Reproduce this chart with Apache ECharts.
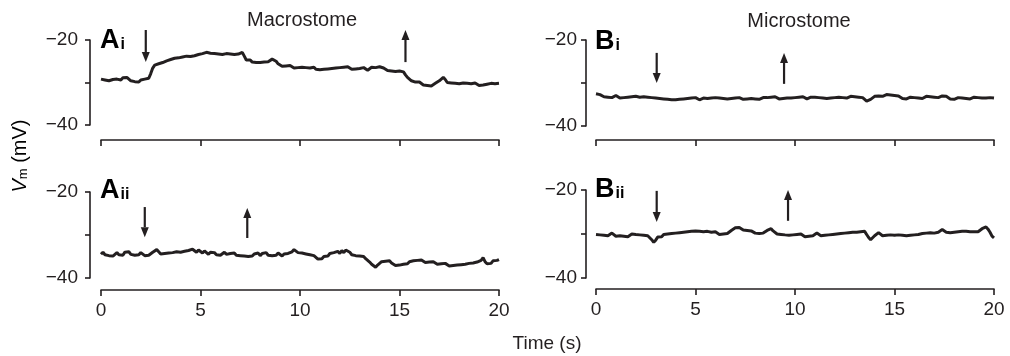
<!DOCTYPE html>
<html><head><meta charset="utf-8">
<script src="https://cdn.jsdelivr.net/npm/echarts@6/dist/echarts.min.js"></script>
<style>html,body{margin:0;padding:0;background:#fff}#c{width:1010px;height:356px}</style>
</head><body><div id="c"></div>
<script>
// Sampling: 0 to 20 s, every 0.1 s
const sampleStep = 0.1;
const xTicks = [0, 5, 10, 15, 20];
const yTicks = [-40, -30, -20];
const yLabelShown = [-40, -20];

const traceAi = [-29.2,-29.0,-29.4,-29.1,-29.6,-29.8,-29.3,-29.7,-29.2,-29.0,-29.4,-28.9,-29.3,-28.8,-29.2,-29.6,-29.4,-29.8,-29.5,-29.9,-29.4,-29.7,-29.2,-29.5,-29.0,-27.9,-26.6,-25.9,-26.1,-25.6,-25.9,-25.3,-25.5,-24.9,-25.2,-24.6,-24.9,-24.3,-24.7,-24.2,-24.5,-24.0,-24.4,-23.8,-24.2,-23.9,-24.3,-23.7,-24.0,-23.4,-23.7,-23.2,-23.5,-22.9,-22.7,-23.1,-23.5,-23.2,-23.6,-23.3,-23.7,-23.4,-23.6,-23.2,-23.5,-23.3,-23.7,-23.4,-23.8,-23.3,-23.1,-22.9,-23.8,-24.7,-25.0,-24.7,-25.2,-24.9,-25.3,-25.0,-25.3,-24.9,-25.2,-24.8,-25.1,-24.7,-24.5,-24.6,-25.0,-25.6,-25.9,-26.2,-25.8,-26.1,-26.4,-26.0,-26.3,-26.6,-26.2,-26.5,-26.8,-26.4,-26.7,-26.5,-26.9,-26.6,-26.8,-26.4,-26.9,-26.7,-27.0,-26.6,-26.9,-27.2,-26.8,-27.1,-26.7,-27.0,-26.6,-26.9,-26.5,-26.8,-26.4,-26.7,-26.3,-26.6,-26.9,-26.5,-26.8,-26.4,-26.7,-26.9,-26.5,-26.8,-27.1,-26.7,-26.4,-26.1,-26.5,-26.8,-26.3,-26.0,-26.6,-26.9,-27.2,-26.9,-27.3,-27.6,-27.4,-27.7,-27.3,-27.1,-27.5,-28.2,-28.8,-29.2,-29.6,-29.4,-29.9,-30.2,-29.9,-30.3,-30.6,-30.4,-30.7,-30.5,-30.8,-30.4,-30.2,-29.9,-29.6,-29.2,-28.8,-29.3,-30.0,-30.4,-30.1,-30.5,-30.2,-30.6,-30.3,-30.5,-30.1,-30.4,-30.2,-30.6,-30.3,-30.5,-30.1,-30.4,-30.7,-30.3,-30.6,-30.9,-30.4,-30.6,-30.2,-29.9,-30.3,-30.0,-30.2];

const traceAii = [-34.5,-34.0,-34.6,-34.2,-34.8,-34.4,-34.9,-34.5,-34.1,-34.6,-34.3,-34.7,-34.0,-34.4,-33.9,-34.5,-34.2,-34.7,-34.3,-34.6,-34.1,-34.5,-34.8,-35.1,-34.7,-34.3,-34.0,-33.6,-33.4,-33.9,-34.4,-34.8,-34.3,-34.6,-34.2,-34.5,-34.1,-34.4,-33.9,-34.3,-34.0,-34.4,-33.8,-34.1,-33.6,-33.9,-33.3,-33.7,-34.0,-33.5,-33.9,-34.2,-33.7,-34.1,-34.5,-34.0,-34.4,-34.1,-34.6,-34.2,-34.7,-34.3,-34.0,-34.5,-34.8,-34.3,-34.6,-34.2,-34.7,-34.4,-34.8,-34.5,-34.9,-34.6,-35.0,-34.6,-34.9,-34.4,-34.7,-34.2,-34.8,-34.3,-34.6,-34.1,-34.7,-34.3,-34.8,-34.4,-34.7,-34.2,-34.5,-34.9,-34.4,-34.7,-34.3,-34.5,-33.9,-33.4,-33.8,-34.1,-33.7,-34.2,-33.9,-34.4,-34.1,-34.6,-34.3,-34.8,-35.2,-35.6,-35.9,-35.5,-35.0,-34.6,-34.9,-34.3,-34.7,-34.1,-34.5,-33.8,-34.3,-33.6,-34.1,-33.5,-33.2,-34.0,-34.6,-34.2,-34.8,-34.4,-34.9,-35.3,-35.0,-35.5,-35.9,-36.3,-36.8,-37.2,-37.5,-37.0,-36.6,-36.2,-36.5,-36.1,-36.4,-36.0,-36.5,-36.9,-37.1,-36.7,-37.0,-36.6,-36.8,-36.4,-36.7,-36.2,-36.5,-36.0,-36.3,-35.9,-36.2,-35.8,-36.1,-36.4,-36.0,-36.3,-36.6,-36.2,-36.5,-36.8,-36.4,-36.7,-37.0,-36.6,-36.9,-37.2,-36.8,-37.1,-36.7,-37.0,-37.3,-36.9,-37.2,-36.8,-37.1,-36.6,-36.9,-36.5,-36.8,-36.3,-36.6,-35.9,-35.3,-36.2,-36.7,-36.3,-36.6,-36.0,-35.6,-35.9,-35.7];

const traceBi = [-32.5,-32.4,-32.7,-32.9,-33.2,-33.0,-33.3,-33.1,-33.4,-33.0,-32.9,-33.2,-33.5,-33.7,-33.4,-33.6,-33.3,-33.5,-33.2,-33.4,-33.1,-33.5,-33.3,-33.6,-33.2,-33.5,-33.3,-33.7,-33.4,-33.2,-33.5,-33.3,-33.6,-33.4,-33.7,-33.5,-33.8,-33.6,-33.9,-33.7,-33.9,-33.6,-33.8,-33.5,-33.7,-33.4,-33.6,-33.3,-33.5,-33.2,-33.4,-33.6,-33.9,-33.7,-33.5,-33.8,-33.6,-33.3,-33.5,-33.2,-33.4,-33.7,-33.5,-33.8,-33.6,-33.9,-33.7,-33.4,-33.6,-33.3,-33.5,-33.7,-33.4,-33.6,-33.8,-33.5,-33.7,-33.9,-33.6,-33.4,-33.7,-33.5,-33.8,-33.6,-33.4,-33.1,-33.4,-33.6,-33.3,-33.5,-33.2,-33.5,-33.7,-33.4,-33.6,-33.3,-33.5,-33.8,-33.5,-33.7,-33.4,-33.6,-33.3,-33.5,-33.2,-33.4,-33.7,-33.5,-33.3,-33.0,-33.3,-33.6,-33.4,-33.7,-33.5,-33.8,-33.6,-33.3,-33.5,-33.2,-33.4,-33.1,-33.3,-33.6,-33.4,-33.2,-33.5,-33.3,-33.1,-33.4,-33.2,-33.0,-33.3,-33.1,-33.4,-33.7,-34.2,-34.4,-33.8,-33.4,-33.1,-33.3,-33.0,-32.8,-33.1,-32.9,-32.7,-33.0,-32.8,-33.1,-32.9,-33.2,-33.0,-33.3,-33.6,-33.4,-33.7,-33.5,-33.3,-33.6,-33.4,-33.7,-33.5,-33.3,-33.6,-33.4,-33.1,-33.4,-33.2,-33.5,-33.3,-33.6,-33.4,-33.2,-33.0,-33.3,-33.1,-33.4,-33.7,-33.5,-33.8,-33.6,-33.4,-33.7,-33.5,-33.3,-33.6,-33.4,-33.7,-33.5,-33.3,-33.6,-33.4,-33.7,-33.5,-33.3,-33.5,-33.2,-33.4,-33.3,-33.5];

const traceBii = [-30.1,-30.5,-30.2,-29.9,-30.3,-30.0,-30.4,-30.1,-29.8,-30.2,-30.5,-30.1,-30.4,-30.8,-30.5,-30.2,-30.6,-30.3,-30.0,-30.3,-30.1,-30.4,-30.2,-30.5,-30.3,-30.6,-30.4,-30.8,-31.3,-31.9,-31.4,-30.7,-30.3,-30.6,-30.1,-30.4,-30.0,-30.3,-29.9,-30.2,-29.8,-30.1,-29.7,-30.0,-29.6,-29.9,-29.5,-29.7,-29.4,-29.6,-29.3,-29.6,-29.4,-29.7,-29.5,-29.8,-29.4,-29.2,-29.6,-29.9,-29.5,-29.8,-30.1,-29.7,-30.0,-29.6,-29.9,-29.5,-29.2,-28.9,-28.6,-28.4,-28.5,-28.8,-29.1,-29.4,-29.2,-29.5,-29.3,-29.6,-29.8,-29.5,-29.9,-30.2,-29.8,-29.5,-29.2,-29.0,-28.8,-29.3,-29.6,-30.0,-29.7,-30.1,-29.8,-30.2,-29.9,-30.3,-30.6,-30.2,-30.5,-30.1,-30.4,-30.0,-30.3,-30.6,-30.2,-30.5,-30.1,-30.4,-30.2,-29.8,-30.1,-30.4,-30.0,-30.3,-29.9,-30.2,-29.8,-30.1,-29.7,-30.0,-29.6,-29.9,-29.5,-29.8,-29.4,-29.7,-30.0,-29.6,-29.3,-29.6,-29.2,-29.5,-29.1,-29.4,-30.1,-30.8,-31.3,-30.9,-30.4,-30.0,-29.7,-30.1,-30.4,-30.0,-30.3,-30.6,-30.2,-30.5,-30.3,-30.6,-30.2,-30.5,-30.3,-30.6,-30.4,-30.7,-30.3,-30.5,-30.2,-30.4,-30.1,-30.3,-29.9,-30.2,-29.8,-30.0,-29.7,-29.5,-29.8,-29.4,-29.6,-29.2,-29.0,-29.3,-29.6,-29.4,-29.7,-29.9,-29.6,-29.9,-29.5,-29.8,-29.4,-29.1,-29.4,-29.0,-29.5,-29.8,-29.5,-29.2,-29.5,-29.1,-28.8,-28.6,-28.4,-28.9,-29.6,-30.5,-30.9];

// Arrows: [time (s), tail value (mV), tip value (mV)]
const arrowsAi = [[2.25, -17.65, -25.2], [15.3, -25.2, -17.65]];
const arrowsAii = [[2.2, -23.5, -30.5], [7.35, -30.7, -23.7]];
const arrowsBi = [[3.05, -23.0, -30.0], [9.45, -30.2, -23.0]];
const arrowsBii = [[3.05, -20.2, -27.3], [9.65, -27.0, -20.0]];

const panelLabels = [['A', 'i'], ['A', 'ii'], ['B', 'i'], ['B', 'ii']];
const groupTitles = ['Macrostome', 'Microstome'];
const xAxisTitle = 'Time (s)';

const INK = '#231f20';
const FONT = "'Liberation Sans', Arial, Helvetica, sans-serif";

const panels = [
  {trace: traceAi, arrows: arrowsAi, grid: {left: 101, top: 40, width: 398, height: 85}, xOff: 15, yOff: 11, yMargin: 12, labels: false},
  {trace: traceAii, arrows: arrowsAii, grid: {left: 101, top: 192, width: 398, height: 86}, xOff: 12, yOff: 11, yMargin: 12, labels: true},
  {trace: traceBi, arrows: arrowsBi, grid: {left: 596, top: 40, width: 398, height: 86}, xOff: 14, yOff: 10, yMargin: 9, labels: false},
  {trace: traceBii, arrows: arrowsBii, grid: {left: 596, top: 190, width: 398, height: 88}, xOff: 11, yOff: 10, yMargin: 9, labels: true}
];

const axisLineStyle = {color: INK, width: 1.6};
const grids = [], xAxes = [], yAxes = [], series = [];
panels.forEach((p, k) => {
  grids.push(Object.assign({containLabel: false}, p.grid));
  xAxes.push({
    type: 'value', gridIndex: k, min: xTicks[0], max: xTicks[xTicks.length - 1], interval: 5,
    position: 'bottom', offset: p.xOff,
    axisLine: {show: true, onZero: false, lineStyle: axisLineStyle},
    axisTick: {show: true, inside: false, length: 6, lineStyle: axisLineStyle},
    axisLabel: {show: p.labels, margin: 11, color: INK, fontSize: 19, fontFamily: FONT},
    splitLine: {show: false}
  });
  yAxes.push({
    type: 'value', gridIndex: k, min: yTicks[0], max: yTicks[yTicks.length - 1], interval: 10,
    position: 'left', offset: p.yOff,
    axisLine: {show: true, onZero: false, lineStyle: axisLineStyle},
    axisTick: {show: true, inside: false, length: 5, lineStyle: axisLineStyle},
    axisLabel: {show: true, margin: p.yMargin, color: INK, fontSize: 19, fontFamily: FONT,
      formatter: v => yLabelShown.indexOf(v) >= 0 ? (v < 0 ? '\u2212' + Math.abs(v) : String(v)) : ''},
    splitLine: {show: false}
  });
  series.push({
    type: 'line', xAxisIndex: k, yAxisIndex: k, clip: false, showSymbol: false, animation: false,
    data: p.trace.map((v, i) => [i * sampleStep, v]),
    lineStyle: {color: INK, width: 3}, itemStyle: {color: INK}
  });
});

const chart = echarts.init(document.getElementById('c'), null, {renderer: 'canvas'});
const richLbl = {
  L: {fontSize: 27, fontWeight: 'bold', fontFamily: FONT, color: INK},
  s: {fontSize: 16, fontWeight: 'bold', fontFamily: FONT, color: INK, padding: [8, 0, 0, 1]}
};
const lblPos = [[100, 27], [100, 177], [595, 28], [595, 176]];
const graphic = panelLabels.map((pl, k) => ({
  type: 'text', left: lblPos[k][0], top: lblPos[k][1],
  style: {text: '{L|' + pl[0] + '}{s|' + pl[1] + '}', rich: richLbl}
}));
graphic.push({type: 'text', x: 302, y: 20, style: {text: groupTitles[0], font: '20px ' + FONT, fill: INK, align: 'center', verticalAlign: 'middle'}});
graphic.push({type: 'text', x: 799, y: 21, style: {text: groupTitles[1], font: '20px ' + FONT, fill: INK, align: 'center', verticalAlign: 'middle'}});
graphic.push({type: 'text', x: 547, y: 344, style: {text: xAxisTitle, font: '19px ' + FONT, fill: INK, align: 'center', verticalAlign: 'middle'}});
graphic.push({
  type: 'text', x: 20, y: 156, rotation: Math.PI / 2,
  style: {
    text: '{v|V}{m|m}{r| (mV)}', align: 'center', verticalAlign: 'middle',
    rich: {
      v: {fontSize: 20, fontStyle: 'italic', fontFamily: FONT, color: INK},
      m: {fontSize: 13, fontFamily: FONT, color: INK, padding: [7, 0, 0, 0]},
      r: {fontSize: 20, fontFamily: FONT, color: INK}
    }
  }
});

chart.setOption({
  animation: false, backgroundColor: '#fff',
  grid: grids, xAxis: xAxes, yAxis: yAxes, series: series, graphic: graphic
});

// Arrows placed through each panel's own axes
const arrowGraphics = [];
const HEAD_LEN = 10, HEAD_HALF = 4;
panels.forEach((p, k) => {
  p.arrows.forEach(a => {
    const tail = chart.convertToPixel({gridIndex: k}, [a[0], a[1]]);
    const tip = chart.convertToPixel({gridIndex: k}, [a[0], a[2]]);
    const dir = tip[1] > tail[1] ? 1 : -1;
    const baseY = tip[1] - dir * HEAD_LEN;
    arrowGraphics.push({
      type: 'line', silent: true,
      shape: {x1: tail[0], y1: tail[1], x2: tip[0], y2: baseY},
      style: {stroke: INK, lineWidth: 2.2}
    });
    arrowGraphics.push({
      type: 'polygon', silent: true,
      shape: {points: [[tip[0], tip[1]], [tip[0] - HEAD_HALF, baseY], [tip[0] + HEAD_HALF, baseY]]},
      style: {fill: INK}
    });
  });
});
chart.setOption({graphic: graphic.concat(arrowGraphics)}, {replaceMerge: ['graphic']});
</script></body></html>
